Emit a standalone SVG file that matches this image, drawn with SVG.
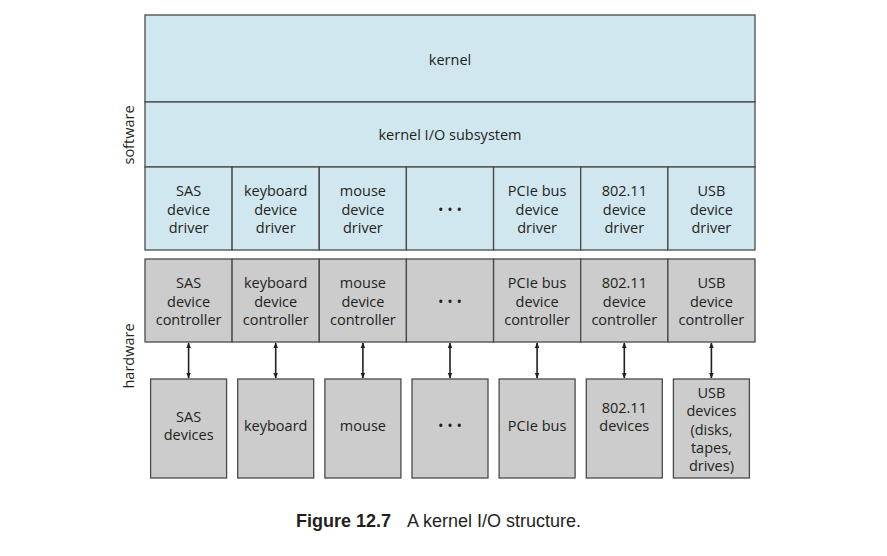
<svg xmlns="http://www.w3.org/2000/svg" width="887" height="556" viewBox="0 0 887 556">
<defs>
<style>
.sw{fill:#d1e7f0;stroke:#4a4a4a;stroke-width:1.3}
.hw{fill:#cccccc;stroke:#4a4a4a;stroke-width:1.3}
.t{font-family:"Open Sans","Liberation Sans",sans-serif;font-size:14.5px;fill:#231f20;text-anchor:middle}
.side{font-family:"Open Sans","Liberation Sans",sans-serif;font-size:14.5px;fill:#231f20;text-anchor:middle}
.cap{font-family:"Liberation Sans",Arial,sans-serif;font-size:18px;fill:#231f20}
.arr{stroke:#231f20;stroke-width:1.6;fill:none;marker-start:url(#ah);marker-end:url(#ah)}
</style>
<marker id="ah" viewBox="0 0 10 10" refX="9" refY="5" markerWidth="6" markerHeight="6" orient="auto-start-reverse" markerUnits="userSpaceOnUse">
<path d="M0,1 L10,5 L0,9 Z" fill="#231f20"/>
</marker>
</defs>
<rect width="887" height="556" fill="#ffffff"/>
<text class="side" transform="translate(134,135) rotate(-90)">software</text>
<text class="side" transform="translate(134,356) rotate(-90)">hardware</text>
<g id="kernel"><rect class="sw" x="145" y="15" width="610" height="87"/><text class="t" x="450" y="65">kernel</text></g>
<g id="kio"><rect class="sw" x="145" y="102" width="610" height="65"/><text class="t" x="450" y="140">kernel I/O subsystem</text></g>
<g id="drv-sas"><rect class="sw" x="145" y="167" width="87.1" height="83"/><text class="t" x="188.6" y="196">SAS</text><text class="t" x="188.6" y="215">device</text><text class="t" x="188.6" y="233">driver</text></g>
<g id="drv-kbd"><rect class="sw" x="232.1" y="167" width="87.1" height="83"/><text class="t" x="275.7" y="196">keyboard</text><text class="t" x="275.7" y="215">device</text><text class="t" x="275.7" y="233">driver</text></g>
<g id="drv-mouse"><rect class="sw" x="319.3" y="167" width="87.1" height="83"/><text class="t" x="362.9" y="196">mouse</text><text class="t" x="362.9" y="215">device</text><text class="t" x="362.9" y="233">driver</text></g>
<g id="drv-dots"><rect class="sw" x="406.4" y="167" width="87.1" height="83"/><text class="t" x="450" y="215">• • •</text></g>
<g id="drv-pcie"><rect class="sw" x="493.6" y="167" width="87.1" height="83"/><text class="t" x="537.1" y="196">PCIe bus</text><text class="t" x="537.1" y="215">device</text><text class="t" x="537.1" y="233">driver</text></g>
<g id="drv-80211"><rect class="sw" x="580.7" y="167" width="87.1" height="83"/><text class="t" x="624.3" y="196">802.11</text><text class="t" x="624.3" y="215">device</text><text class="t" x="624.3" y="233">driver</text></g>
<g id="drv-usb"><rect class="sw" x="667.9" y="167" width="87.1" height="83"/><text class="t" x="711.4" y="196">USB</text><text class="t" x="711.4" y="215">device</text><text class="t" x="711.4" y="233">driver</text></g>

<g id="ctl-sas"><rect class="hw" x="145" y="259" width="87.1" height="83"/><text class="t" x="188.6" y="288">SAS</text><text class="t" x="188.6" y="307">device</text><text class="t" x="188.6" y="325">controller</text></g>
<g id="ctl-kbd"><rect class="hw" x="232.1" y="259" width="87.1" height="83"/><text class="t" x="275.7" y="288">keyboard</text><text class="t" x="275.7" y="307">device</text><text class="t" x="275.7" y="325">controller</text></g>
<g id="ctl-mouse"><rect class="hw" x="319.3" y="259" width="87.1" height="83"/><text class="t" x="362.9" y="288">mouse</text><text class="t" x="362.9" y="307">device</text><text class="t" x="362.9" y="325">controller</text></g>
<g id="ctl-dots"><rect class="hw" x="406.4" y="259" width="87.1" height="83"/><text class="t" x="450" y="307">• • •</text></g>
<g id="ctl-pcie"><rect class="hw" x="493.6" y="259" width="87.1" height="83"/><text class="t" x="537.1" y="288">PCIe bus</text><text class="t" x="537.1" y="307">device</text><text class="t" x="537.1" y="325">controller</text></g>
<g id="ctl-80211"><rect class="hw" x="580.7" y="259" width="87.1" height="83"/><text class="t" x="624.3" y="288">802.11</text><text class="t" x="624.3" y="307">device</text><text class="t" x="624.3" y="325">controller</text></g>
<g id="ctl-usb"><rect class="hw" x="667.9" y="259" width="87.1" height="83"/><text class="t" x="711.4" y="288">USB</text><text class="t" x="711.4" y="307">device</text><text class="t" x="711.4" y="325">controller</text></g>

<g id="dev-sas"><rect class="hw" x="150.6" y="379" width="76" height="99"/><text class="t" x="188.6" y="422">SAS</text><text class="t" x="188.6" y="440">devices</text></g>
<g id="dev-kbd"><rect class="hw" x="237.7" y="379" width="76" height="99"/><text class="t" x="275.7" y="431">keyboard</text></g>
<g id="dev-mouse"><rect class="hw" x="324.9" y="379" width="76" height="99"/><text class="t" x="362.9" y="431">mouse</text></g>
<g id="dev-dots"><rect class="hw" x="412" y="379" width="76" height="99"/><text class="t" x="450" y="431">• • •</text></g>
<g id="dev-pcie"><rect class="hw" x="499.1" y="379" width="76" height="99"/><text class="t" x="537.1" y="431">PCIe bus</text></g>
<g id="dev-80211"><rect class="hw" x="586.3" y="379" width="76" height="99"/><text class="t" x="624.3" y="413">802.11</text><text class="t" x="624.3" y="431">devices</text></g>
<g id="dev-usb"><rect class="hw" x="673.4" y="379" width="76" height="99"/><text class="t" x="711.4" y="398">USB</text><text class="t" x="711.4" y="416">devices</text><text class="t" x="711.4" y="435">(disks,</text><text class="t" x="711.4" y="453">tapes,</text><text class="t" x="711.4" y="471">drives)</text></g>

<g id="connectors">
<line class="arr" x1="188.6" y1="343" x2="188.6" y2="378"/>
<line class="arr" x1="275.7" y1="343" x2="275.7" y2="378"/>
<line class="arr" x1="362.9" y1="343" x2="362.9" y2="378"/>
<line class="arr" x1="450" y1="343" x2="450" y2="378"/>
<line class="arr" x1="537.1" y1="343" x2="537.1" y2="378"/>
<line class="arr" x1="624.3" y1="343" x2="624.3" y2="378"/>
<line class="arr" x1="711.4" y1="343" x2="711.4" y2="378"/>
</g>
<text class="cap" x="296" y="527"><tspan font-weight="bold">Figure 12.7</tspan><tspan dx="16">A kernel I/O structure.</tspan></text>
</svg>
